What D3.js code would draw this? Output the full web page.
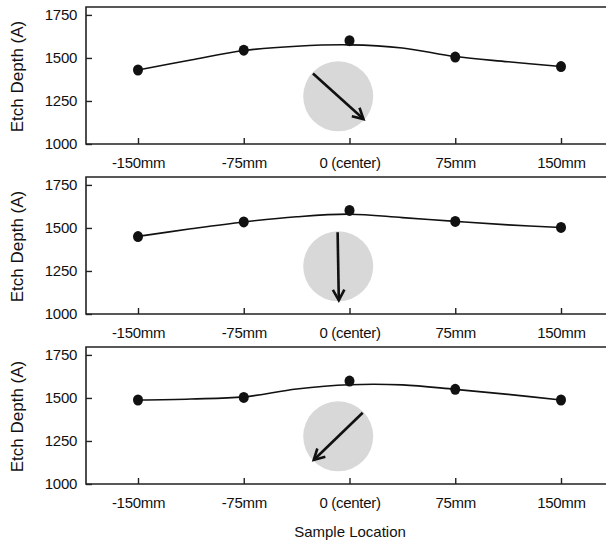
<!DOCTYPE html>
<html>
<head>
<meta charset="utf-8">
<script src="https://cdn.jsdelivr.net/npm/d3@7"></script>
<style>
  body { margin: 0; background: #fff; }
</style>
</head>
<body>
<div id="chart"></div>
<script>
// sample positions across the wafer (mm) and their labels
const locations = [-150, -75, 0, 75, 150];
const locationLabels = ["-150mm", "-75mm", "0 (center)", "75mm", "150mm"];
const depthTicks = [1000, 1250, 1500, 1750];

// measured etch depth per panel
const depthTop = [1430, 1545, 1600, 1505, 1450];
const depthMid = [1450, 1535, 1602, 1538, 1503];
const depthBottom = [1488, 1503, 1598, 1550, 1488];

// fitted trend line
const fitLocations = [-150, -112.5, -75, -37.5, 0, 37.5, 75, 112.5, 150];
const fitTop = [1430, 1488, 1543, 1568, 1576, 1558, 1508, 1478, 1450];
const fitMid = [1451, 1495, 1535, 1565, 1580, 1560, 1538, 1518, 1503];
const fitBottom = [1488, 1494, 1506, 1552, 1577, 1576, 1550, 1521, 1488];

// gas flow direction on the wafer inset (degrees, screen coords, 0 = right, 90 = down)
const flowAngle = [42, 89, 136];

(function() {
  const width = 606;
  const height = 543;
  const left = 86, right = 606;
  const panelTops = [7, 177, 347];
  const panelH = 137;
  const font = "'Liberation Sans', Arial, sans-serif";

  const svg = d3.select("#chart")
    .append("svg")
    .attr("width", width)
    .attr("height", height)
    .style("font-family", font);

  const x = d3.scaleLinear().domain([-150, 150]).range([138, 561]);
  const y = d3.scaleLinear().domain([1000, 1796]).range([panelH, 0]);

  const panels = [
    { depth: depthTop, fit: fitTop, angle: flowAngle[0] },
    { depth: depthMid, fit: fitMid, angle: flowAngle[1] },
    { depth: depthBottom, fit: fitBottom, angle: flowAngle[2] }
  ];

  panels.forEach((p, i) => {
    const g = svg.append("g").attr("transform", `translate(0, ${panelTops[i]})`);

    // wafer inset with flow arrow
    const cx = x(-8), cy = y(1277), r = 35, len = 34;
    g.append("circle")
      .attr("cx", cx).attr("cy", cy).attr("r", r)
      .attr("fill", "#d8d8d8");
    const a = p.angle * Math.PI / 180;
    const x1 = cx - Math.cos(a) * len, y1 = cy - Math.sin(a) * len;
    const x2 = cx + Math.cos(a) * len, y2 = cy + Math.sin(a) * len;
    g.append("line")
      .attr("x1", x1).attr("y1", y1).attr("x2", x2).attr("y2", y2)
      .attr("stroke", "#111").attr("stroke-width", 2.6);
    const head = 12, spread = 0.5;
    const hp = [a + Math.PI - spread, a + Math.PI + spread]
      .map(t => [x2 + Math.cos(t) * head, y2 + Math.sin(t) * head]);
    g.append("path")
      .attr("d", `M${hp[0][0]},${hp[0][1]}L${x2},${y2}L${hp[1][0]},${hp[1][1]}`)
      .attr("fill", "none")
      .attr("stroke", "#111")
      .attr("stroke-width", 2.6)
      .attr("stroke-linejoin", "miter");

    // frame: left, top, bottom
    g.append("path")
      .attr("d", `M${right},0H${left}V${panelH}H${right}`)
      .attr("fill", "none")
      .attr("stroke", "#222")
      .attr("stroke-width", 1.6);

    // axes with inward ticks
    const xAxis = g.append("g")
      .attr("transform", `translate(0, ${panelH})`)
      .call(d3.axisBottom(x).tickValues(locations)
        .tickFormat((d, j) => locationLabels[j])
        .tickSizeInner(-6).tickSizeOuter(0).tickPadding(13));
    xAxis.select(".domain").remove();

    const yAxis = g.append("g")
      .attr("transform", `translate(${left}, 0)`)
      .call(d3.axisLeft(y).tickValues(depthTicks)
        .tickFormat(d3.format("d"))
        .tickSizeInner(-6).tickSizeOuter(0).tickPadding(9));
    yAxis.select(".domain").remove();

    [xAxis, yAxis].forEach(ax => {
      ax.selectAll("line").attr("stroke", "#222").attr("stroke-width", 1.4);
      ax.selectAll("text")
        .attr("fill", "#111")
        .style("font-family", font)
        .style("font-size", "15px")
        .style("letter-spacing", "-0.3px");
    });

    // fitted line
    const line = d3.line()
      .x((d, j) => x(fitLocations[j]))
      .y(d => y(d))
      .curve(d3.curveCatmullRom.alpha(0.5));
    g.append("path")
      .datum(p.fit)
      .attr("d", line)
      .attr("fill", "none")
      .attr("stroke", "#111")
      .attr("stroke-width", 1.6);

    // measured points
    g.selectAll("ellipse.pt")
      .data(p.depth)
      .join("ellipse")
      .attr("class", "pt")
      .attr("cx", (d, j) => x(locations[j]))
      .attr("cy", d => y(d))
      .attr("rx", 5)
      .attr("ry", 5.5)
      .attr("fill", "#111");

    // y axis title
    g.append("text")
      .attr("transform", `translate(23, ${panelH / 2 + 1}) rotate(-90)`)
      .attr("text-anchor", "middle")
      .style("font-size", "17px")
      .attr("fill", "#111")
      .text("Etch Depth (A)");
  });

  svg.append("text")
    .attr("x", 350)
    .attr("y", 537)
    .attr("text-anchor", "middle")
    .style("font-size", "15px")
    .attr("fill", "#111")
    .text("Sample Location");
})();
</script>
</body>
</html>
